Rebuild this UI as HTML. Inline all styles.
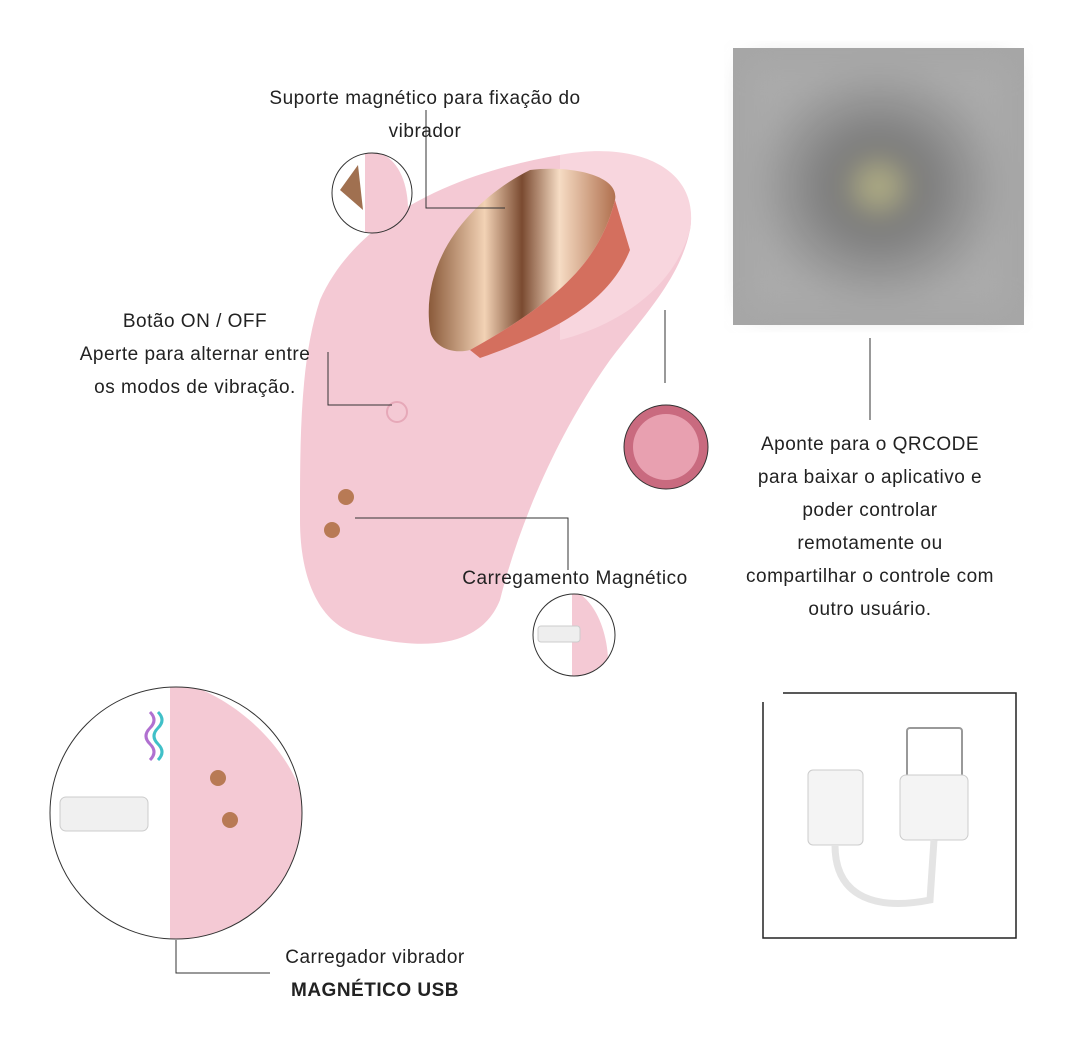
<!DOCTYPE html>
<html><head><meta charset="utf-8"><style>
body{margin:0;background:#fff;width:1065px;height:1045px;overflow:hidden;font-family:"Liberation Sans",sans-serif}
.t{position:absolute;font-size:19px;color:#222;text-align:center;line-height:33px;letter-spacing:0.5px}
</style></head><body>
<svg width="1065" height="1045" style="position:absolute;left:0;top:0">
<defs>
<filter id="bl"><feGaussianBlur stdDeviation="14"/></filter>
<linearGradient id="gold" x1="0" x2="1"><stop offset="0" stop-color="#8a5a3a"/><stop offset=".3" stop-color="#f2d2b5"/><stop offset=".5" stop-color="#7a4a30"/><stop offset=".7" stop-color="#f6dcc4"/><stop offset="1" stop-color="#b0704e"/></linearGradient>
<radialGradient id="qr"><stop offset="0" stop-color="#c8c48a"/><stop offset=".3" stop-color="#777"/><stop offset="1" stop-color="#aaa"/></radialGradient>
<clipPath id="c1"><circle cx="372" cy="193" r="40"/></clipPath>
<clipPath id="c2"><circle cx="574" cy="635" r="41"/></clipPath>
<clipPath id="c3"><circle cx="176" cy="813" r="126"/></clipPath>
</defs>
<rect x="733" y="48" width="291" height="277" fill="#a6a6a6"/>
<rect x="750" y="65" width="257" height="243" fill="url(#qr)" filter="url(#bl)"/>
<line x1="870" y1="338" x2="870" y2="420" stroke="#333"/>
<path d="M320 300 C360 210 470 170 560 155 C640 145 700 175 690 230 C680 280 640 320 610 360 C560 430 520 520 500 600 C480 650 420 650 360 635 C320 625 300 580 300 520 C300 440 300 360 320 300Z" fill="#f4c9d4"/>
<path d="M560 155 C640 140 700 170 690 230 C670 300 600 330 560 340 Z" fill="#f8d6de"/>
<path d="M430 330 C420 260 470 200 530 170 C570 165 620 175 615 200 C600 260 560 300 470 350 C450 355 432 345 430 330Z" fill="url(#gold)"/>
<path d="M470 350 C560 300 600 260 615 200 L630 250 C610 300 560 330 480 358Z" fill="#d46f5e"/>
<circle cx="397" cy="412" r="10" fill="none" stroke="#e6a8b8" stroke-width="2"/>
<circle cx="346" cy="497" r="8" fill="#b87a55"/><circle cx="332" cy="530" r="8" fill="#b87a55"/>
<polyline points="426,110 426,208 505,208" fill="none" stroke="#333"/>
<polyline points="328,352 328,405 392,405" fill="none" stroke="#333"/>
<polyline points="355,518 568,518 568,570" fill="none" stroke="#333"/>
<line x1="665" y1="310" x2="665" y2="383" stroke="#333"/>
<g clip-path="url(#c1)"><path d="M365 150 C400 150 415 190 405 240 L365 240Z" fill="#f4c9d4"/><path d="M340 190 l18 -25 l5 45Z" fill="#a07050"/></g>
<circle cx="372" cy="193" r="40" fill="none" stroke="#333"/>
<circle cx="666" cy="447" r="42" fill="#c96a7f" stroke="#333"/>
<circle cx="666" cy="447" r="33" fill="#e8a0b0"/>
<g clip-path="url(#c2)"><path d="M572 590 C600 600 615 650 605 690 L572 690Z" fill="#f4c9d4"/><rect x="538" y="626" width="42" height="16" rx="3" fill="#eee" stroke="#ccc"/></g>
<circle cx="574" cy="635" r="41" fill="none" stroke="#333"/>
<g clip-path="url(#c3)"><path d="M170 680 C230 690 320 760 310 860 C300 910 250 940 220 945 L170 945Z" fill="#f4c9d4"/>
<rect x="60" y="797" width="88" height="34" rx="6" fill="#f0f0f0" stroke="#ccc"/></g>
<circle cx="176" cy="813" r="126" fill="none" stroke="#333"/>
<circle cx="218" cy="778" r="8" fill="#b87a55"/><circle cx="230" cy="820" r="8" fill="#b87a55"/>
<path d="M150 712 q8 8 0 16 q-8 8 0 16 q8 8 0 16" fill="none" stroke="#b070d0" stroke-width="3"/>
<path d="M158 712 q8 8 0 16 q-8 8 0 16 q8 8 0 16" fill="none" stroke="#40c0c8" stroke-width="3"/>
<polyline points="176,940 176,973 270,973" fill="none" stroke="#333"/>
<polyline points="783,693 1016,693 1016,938 763,938 763,702" fill="none" stroke="#222" stroke-width="1.5"/>
<rect x="907" y="728" width="55" height="52" rx="3" fill="#fff" stroke="#999" stroke-width="2"/>
<rect x="900" y="775" width="68" height="65" rx="6" fill="#f4f4f4" stroke="#ccc"/>
<rect x="808" y="770" width="55" height="75" rx="5" fill="#f4f4f4" stroke="#ccc"/>
<path d="M835 845 C835 900 880 910 930 900 L934 840" fill="none" stroke="#e4e4e4" stroke-width="7"/>
</svg>
<div class="t" style="left:225px;top:82px;width:400px">Suporte magnético para fixação do<br>vibrador</div>
<div class="t" style="left:30px;top:305px;width:330px">Botão ON / OFF<br>Aperte para alternar entre<br>os modos de vibração.</div>
<div class="t" style="left:430px;top:562px;width:290px">Carregamento Magnético</div>
<div class="t" style="left:720px;top:428px;width:300px">Aponte para o QRCODE<br>para baixar o aplicativo e<br>poder controlar<br>remotamente ou<br>compartilhar o controle com<br>outro usuário.</div>
<div class="t" style="left:270px;top:941px;width:210px">Carregador vibrador<br><b>MAGNÉTICO USB</b></div>
</body></html>
